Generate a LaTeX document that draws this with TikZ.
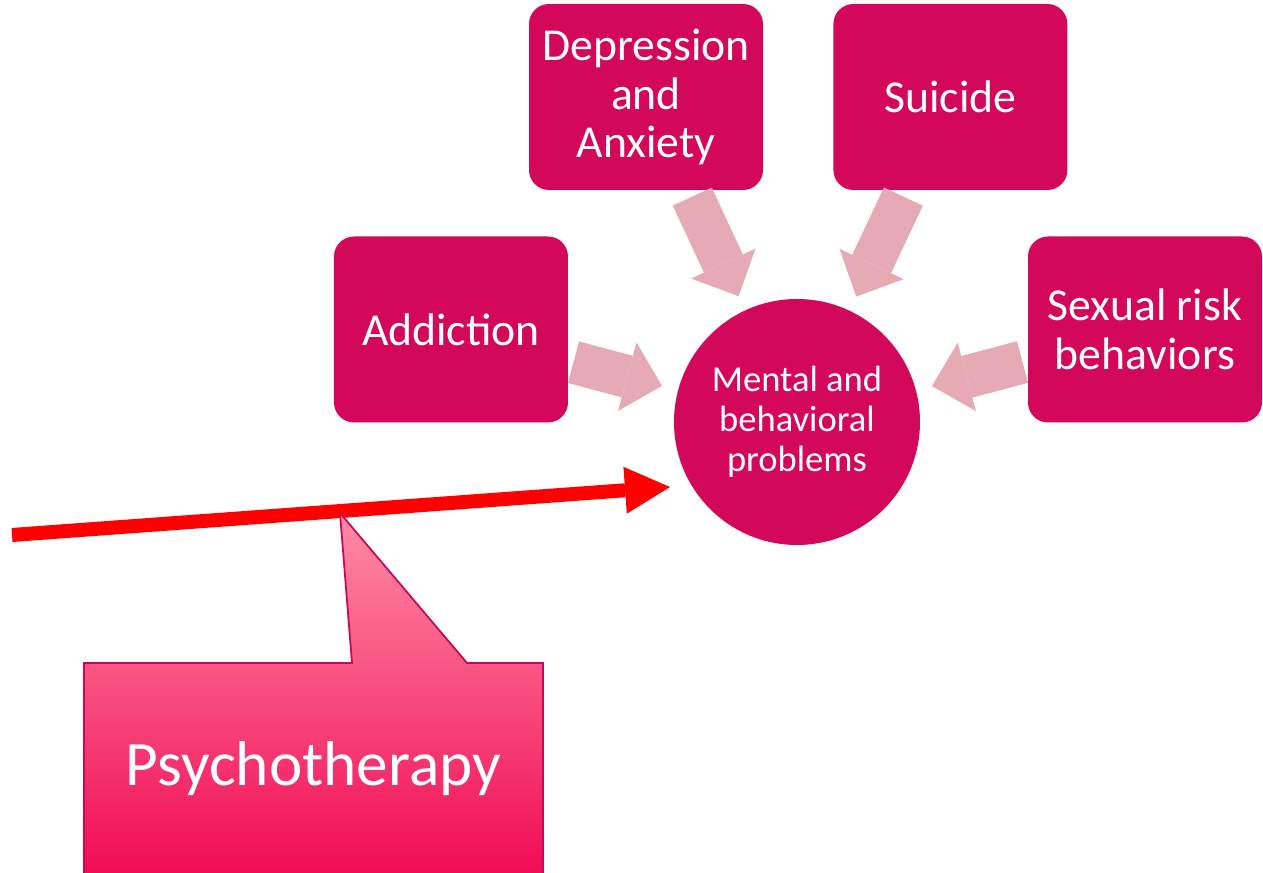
\documentclass[tikz,border=0pt]{standalone}
\usepackage{fontspec}
\setmainfont{Carlito}
\usepackage{tikz}
\usetikzlibrary{arrows.meta,positioning}
\definecolor{probmagenta}{HTML}{D4085A}
\definecolor{spokepink}{HTML}{E5AAB4}
\definecolor{callborder}{HTML}{C8065A}
\definecolor{calltop}{HTML}{FF8CA3}
\definecolor{callbottom}{HTML}{F00A55}
\tikzset{
  problem/.style={rounded corners=0.2cm, fill=probmagenta, text=white, align=center, minimum width=2.34cm, minimum height=1.86cm, inner sep=0pt, font=\fontsize{13}{13.9}\selectfont},
  core/.style={circle, fill=probmagenta, text=white, align=center, minimum size=2.46cm, inner sep=0pt, font=\fontsize{10.4}{11.4}\selectfont},
  spoke/.style={-{Triangle[length=0.36cm, width=0.71cm, line width=0pt]}, line width=0.43cm, draw=spokepink},
  therapy/.style={-{Triangle[length=0.45cm, width=0.47cm, line width=0pt]}, line width=0.14cm, draw=red},
  callout/.style={draw=callborder, line width=0.5pt, top color=calltop, bottom color=callbottom, line join=miter},
  calltext/.style={text=white, font=\fontsize{18}{21}\selectfont}
}

\begin{document}
\begin{tikzpicture}
  \useasboundingbox (0,0) rectangle (12.63,-8.73);

  \node[core] (mental) at (7.97,-4.22) {Mental and\\behavioral\\problems};
  \node[problem] (depression) at (6.46,-0.97) {Depression\\and\\Anxiety};
  \node[problem, right=0.69cm of depression] (suicide) {Suicide};
  \node[problem] (addiction) at (4.51,-3.295) {Addiction};
  \node[problem] (sexual) at (11.45,-3.295) {Sexual risk\\behaviors};

  \draw[spoke, shorten <=0.065cm, shorten >=0.15cm] (depression) -- (mental);
  \draw[spoke, shorten <=0.065cm, shorten >=0.15cm] (suicide) -- (mental);
  \draw[spoke, shorten <=0.05cm, shorten >=0.16cm] (addiction) -- (mental);
  \draw[spoke, shorten <=0.05cm, shorten >=0.16cm] (sexual) -- (mental);

  % intervention arrow and its label
  \coordinate (therapystart) at (0.12,-5.35);
  \coordinate (therapyend) at (6.70,-4.87);
  \draw[therapy] (therapystart) -- (therapyend);

  \coordinate (calltip) at (3.40,-5.13);
  \path[callout] (0.84,-6.63) -- (3.52,-6.63) -- (calltip) -- (4.67,-6.63) -- (5.43,-6.63) -- (5.43,-8.80) -- (0.84,-8.80) -- cycle;
  \node[calltext] (psycho) at (3.135,-7.69) {Psychotherapy};
\end{tikzpicture}
\end{document}
